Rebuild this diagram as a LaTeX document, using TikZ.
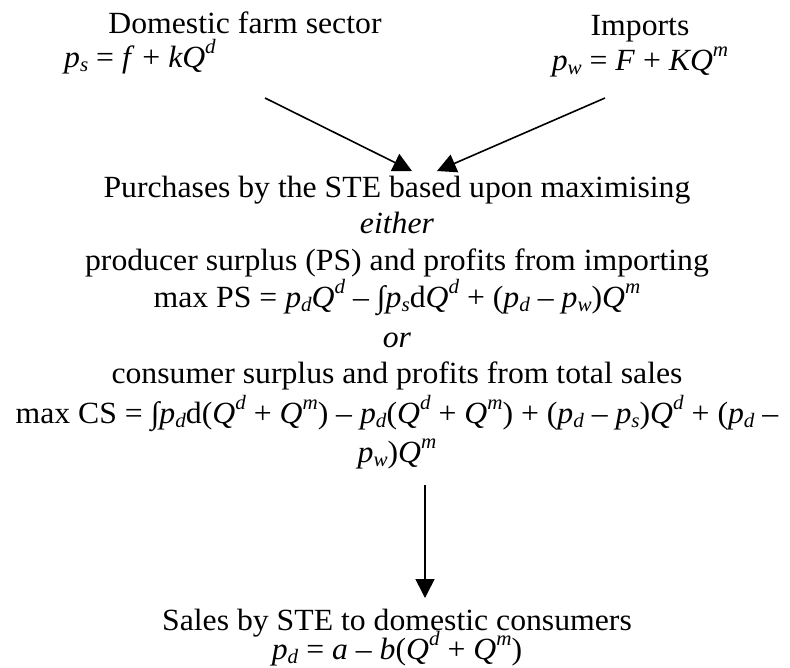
\documentclass[tikz,border=0pt]{standalone}
\usepackage{fontspec}
\setmainfont{Liberation Serif}[FakeStretch=1.03]
\usepackage{tikz}
\usetikzlibrary{positioning}
\usetikzlibrary{arrows.meta}

\newcommand{\mv}[1]{\textit{#1}}
\newcommand{\subs}[1]{\raisebox{-0.16em}{\fontsize{20.5}{20}\selectfont\textit{#1}}}
\newcommand{\sups}[1]{\raisebox{0.45em}{\fontsize{20.5}{20}\selectfont\textit{#1}}}

\begin{document}
\begin{tikzpicture}[x=1pt, y=-1pt,
    txt/.style={inner sep=0pt, anchor=base, font=\fontsize{30.8}{36}\selectfont},
    arr/.style={-{Triangle[length=19pt,width=19pt]}, line width=1.6pt}]

	\useasboundingbox (0,0) rectangle (790,667);

	\def\cx{397};

	% the two sources
	\node[txt] (dom) at (245,33) {Domestic farm sector};
	\node[txt, anchor=base west] (domeq) at (64,67) {\mv{p}\subs{s} = \mv{f} + \mv{kQ}\sups{d}};
	\node[txt] (imp) at (640,35) {Imports};
	\node[txt] (impeq) at (640,70) {\mv{p}\subs{w} = \mv{F} + \mv{KQ}\sups{m}};

	% the STE block
	\foreach \name/\yy/\txt in {
	    l1/197/{Purchases by the STE based upon maximising},
	    l2/233/{\textit{either}},
	    l3/270/{producer surplus (PS) and profits from importing},
	    l4/307/{max PS = \mv{p}\subs{d}\mv{Q}\sups{d} – ∫\mv{p}\subs{s}d\mv{Q}\sups{d} + (\mv{p}\subs{d} – \mv{p}\subs{w})\mv{Q}\sups{m}},
	    l5/347/{\textit{or}},
	    l6/383/{consumer surplus and profits from total sales},
	    l7/423/{max CS = ∫\mv{p}\subs{d}d(\mv{Q}\sups{d} + \mv{Q}\sups{m}) – \mv{p}\subs{d}(\mv{Q}\sups{d} + \mv{Q}\sups{m}) + (\mv{p}\subs{d} – \mv{p}\subs{s})\mv{Q}\sups{d} + (\mv{p}\subs{d} –},
	    l8/462/{\mv{p}\subs{w})\mv{Q}\sups{m}}} {
	    \node[txt] (\name) at (\cx,\yy) {\txt};
	}

	% sales
	\node[txt] (sales) at (\cx,630) {Sales by STE to domestic consumers};
	\node[txt] (saleseq) at (\cx,659) {\mv{p}\subs{d} = \mv{a} – \mv{b}(\mv{Q}\sups{d} + \mv{Q}\sups{m})};

	\coordinate (domout) at (265,98);
	\coordinate (impout) at (605,98);
	\coordinate (in1) at (412,171);
	\coordinate (in2) at (437,171);
	\coordinate (steout) at (425,485);
	\coordinate (salesin) at (425,598);

	\draw[arr] (domout) -- (in1);
	\draw[arr] (impout) -- (in2);
	\draw[arr] (steout) -- (salesin);

\end{tikzpicture}
\end{document}
